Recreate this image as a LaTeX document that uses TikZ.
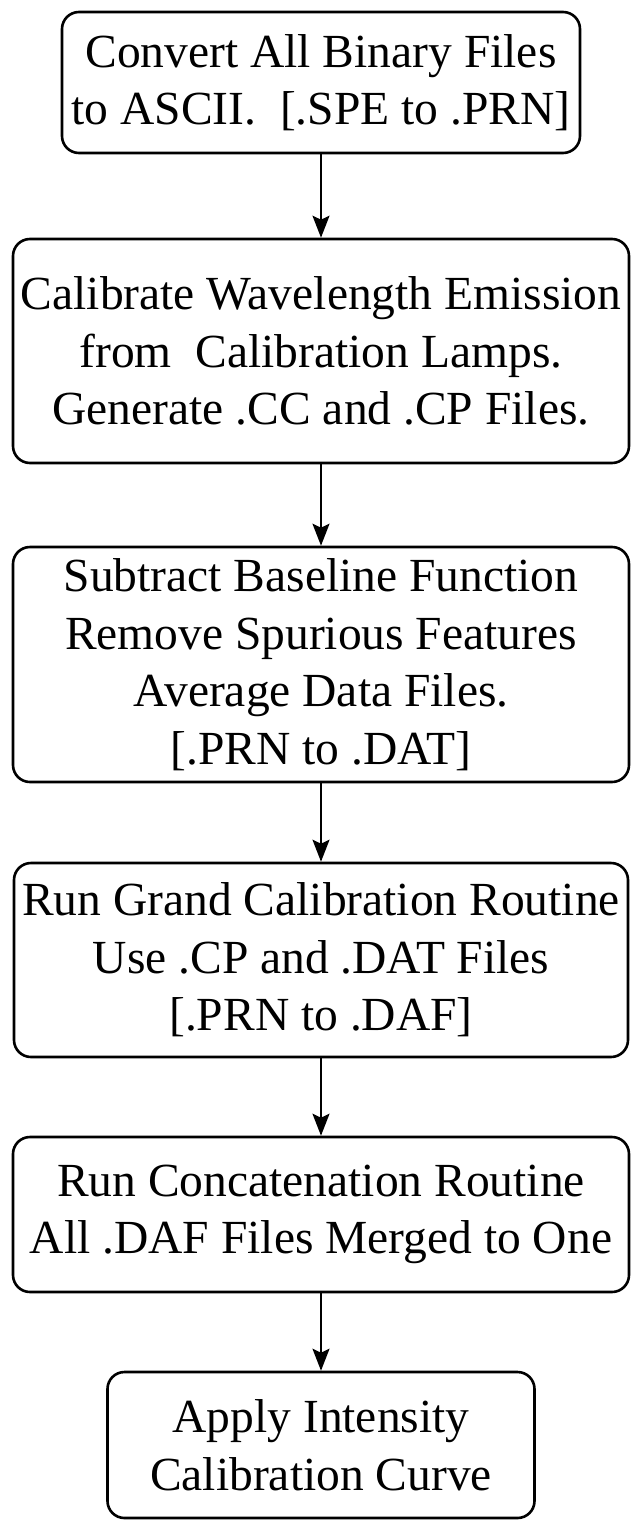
\documentclass[tikz,border=0pt]{standalone}
\usepackage{fontspec}
\setmainfont{Liberation Serif}
\usetikzlibrary{arrows.meta}
\tikzset{
  stepbox/.style={draw=black, line width=2.6pt, rounded corners=17pt, align=center, inner sep=0pt,
    font=\fontsize{47.5}{57.5}\selectfont},
  flowarrow/.style={draw=black, line width=2pt, -{Stealth[length=22pt, width=17pt, inset=4pt]}}
}
\begin{document}
\begin{tikzpicture}[x=1pt,y=-1pt]
\useasboundingbox (0,0) rectangle (632,1520);
\node[stepbox, minimum width=518pt, minimum height=141pt] (b1) at (321,82.5)
  {Convert All Binary Files\\to ASCII.\ \ [.SPE to .PRN]};
\node[stepbox, minimum width=616pt, minimum height=224pt] (b2) at (321,351)
  {Calibrate Wavelength Emission\\from\ \ Calibration Lamps.\\Generate .CC and .CP Files.};
\node[stepbox, minimum width=616pt, minimum height=235pt] (b3) at (321,664.5)
  {Subtract Baseline Function\\Remove Spurious Features\\Average Data Files.\\{[.PRN} to .DAT]};
\node[stepbox, minimum width=614pt, minimum height=194pt] (b4) at (321,960)
  {Run Grand Calibration Routine\\Use .CP and .DAT Files\\{[.PRN} to .DAF]};
\node[stepbox, minimum width=616pt, minimum height=155pt] (b5) at (321,1214.5)
  {Run Concatenation Routine\\All .DAF Files Merged to One};
\node[stepbox, minimum width=427pt, minimum height=146pt] (b6) at (321,1445)
  {Apply Intensity\\Calibration Curve};
\draw[flowarrow] (b1.south) -- (b2.north);
\draw[flowarrow] (b2.south) -- (b3.north);
\draw[flowarrow] (b3.south) -- (b4.north);
\draw[flowarrow] (b4.south) -- (b5.north);
\draw[flowarrow] (b5.south) -- (b6.north);
\end{tikzpicture}
\end{document}
